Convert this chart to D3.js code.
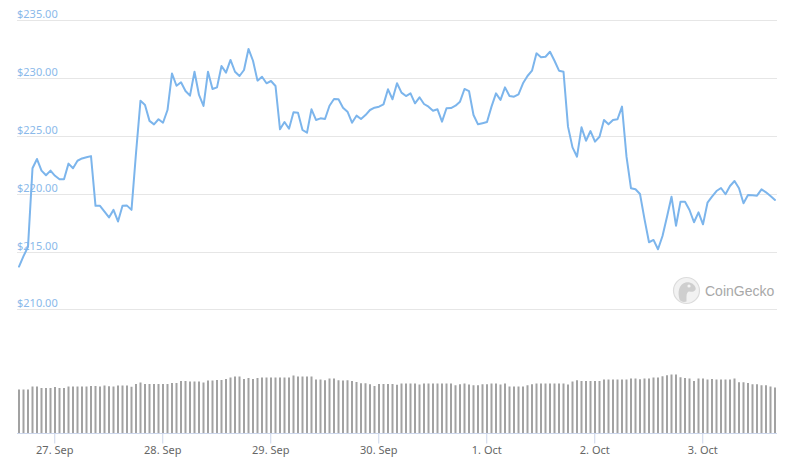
<!DOCTYPE html>
<html>
<head>
<meta charset="utf-8">
<script src="https://cdn.jsdelivr.net/npm/d3@7"></script>
<style>
  html, body { margin: 0; padding: 0; background: #fff; }
  svg { display: block; }
</style>
</head>
<body>
<svg id="chart" width="798" height="465"></svg>
<script>
// ---- data ----
const startTime = "2020-09-26T16:10:00Z"; // first hourly sample (UTC)
const stepHours = 1;

const prices = [
  213.7, 214.6, 215.4, 222.2, 223.0, 222.0, 221.6, 222.0, 221.55, 221.25,
  221.25, 222.6, 222.2, 222.85, 223.05, 223.15, 223.25, 218.95, 218.95, 218.45,
  217.95, 218.6, 217.6, 218.95, 218.97, 218.6, 223.5, 228.05, 227.67, 226.3,
  226.0, 226.44, 226.14, 227.24, 230.4, 229.34, 229.64, 228.88, 228.48, 230.55,
  228.54, 227.59, 230.55, 229.06, 229.2, 231.05, 230.47, 231.57, 230.55, 230.18,
  230.7, 232.52, 231.5, 229.78, 230.12, 229.55, 229.75, 229.32, 225.57, 226.2,
  225.62, 227.04, 227.0, 225.51, 225.28, 227.3, 226.38, 226.52, 226.46, 227.61,
  228.19, 228.17, 227.44, 227.09, 226.14, 226.75, 226.46, 226.8, 227.24, 227.44,
  227.53, 227.73, 229.03, 228.17, 229.55, 228.74, 228.45, 228.68, 227.82, 228.34,
  227.76, 227.53, 227.18, 227.3, 226.23, 227.39, 227.41, 227.61, 227.96, 229.06,
  228.88, 226.81, 226.0, 226.1, 226.2, 227.53, 228.68, 228.11, 229.2, 228.45,
  228.39, 228.6, 229.55, 230.18, 230.64, 232.14, 231.8, 231.85, 232.28, 231.5,
  230.64, 230.55, 225.8, 224.01, 223.2, 225.74, 224.58, 225.42, 224.5, 224.93,
  226.38, 226.0, 226.38, 226.44, 227.53, 223.2, 220.47, 220.38, 219.97, 217.8,
  215.8, 216.0, 215.19, 216.34, 218.01, 219.74, 217.23, 219.31, 219.31, 218.59,
  217.53, 218.39, 217.35, 219.22, 219.74, 220.23, 220.49, 219.95, 220.67, 221.1,
  220.47, 219.17, 219.89, 219.86, 219.83, 220.38, 220.12, 219.8, 219.46
];

// hourly volume, millions USD
const volumes = [
  1740, 1740, 1740, 1860, 1860, 1800, 1800, 1800, 1840, 1800,
  1800, 1860, 1860, 1860, 1860, 1860, 1880, 1880, 1860, 1900,
  1870, 1860, 1900, 1900, 1900, 1850, 1960, 2020, 1960, 1960,
  1960, 1960, 1960, 1960, 2000, 2000, 2080, 2080, 2060, 2060,
  2060, 2020, 2100, 2100, 2120, 2120, 2160, 2220, 2260, 2260,
  2160, 2200, 2160, 2200, 2220, 2220, 2220, 2220, 2220, 2220,
  2220, 2300, 2260, 2260, 2260, 2260, 2140, 2140, 2110, 2180,
  2180, 2110, 2100, 2110, 2080, 2040, 1990, 1990, 1950, 1880,
  1960, 1960, 1960, 1960, 1930, 1980, 1980, 1980, 1980, 1940,
  1980, 1980, 1980, 1980, 1980, 1980, 1980, 1910, 1950, 1980,
  1940, 1910, 1910, 1950, 1950, 1980, 1980, 1940, 1980, 1860,
  1860, 1860, 1860, 1910, 1950, 1980, 1980, 1980, 1980, 1980,
  1980, 1980, 1940, 2060, 2110, 2080, 2080, 2080, 2080, 2080,
  2140, 2140, 2140, 2140, 2140, 2140, 2180, 2180, 2150, 2180,
  2180, 2220, 2220, 2270, 2310, 2340, 2340, 2230, 2200, 2180,
  2080, 2180, 2180, 2140, 2160, 2140, 2140, 2140, 2140, 2180,
  2030, 2030, 2000, 1950, 1950, 1910, 1910, 1860, 1820
];

const priceTicks = [210, 215, 220, 225, 230, 235];
const brandLabel = "CoinGecko";

// ---- layout ----
const svg = d3.select("#chart");
const W = 798, H = 465;
const plotLeft = 17, plotRight = 777;
const t0 = new Date(startTime).getTime();
const times = prices.map((_, i) => new Date(t0 + i * stepHours * 3600e3));

const x = d3.scaleTime()
  .domain([times[0], times[times.length - 1]])
  .range([19, 775]);

const y = d3.scaleLinear().domain([210, 235]).range([309.3, 20.3]);

const volBase = 433;
const v = d3.scaleLinear().domain([0, 2400]).range([volBase, volBase - 60]);

svg.append("rect").attr("width", W).attr("height", H).attr("fill", "#fff");

// grid lines + labels
const grid = svg.append("g");
grid.selectAll("line").data(priceTicks).join("line")
  .attr("x1", plotLeft).attr("x2", plotRight)
  .attr("y1", d => Math.round(y(d)) + 0.5).attr("y2", d => Math.round(y(d)) + 0.5)
  .attr("stroke", "#e6e6e6").attr("stroke-width", 1);
grid.selectAll("text").data(priceTicks).join("text")
  .attr("x", plotLeft).attr("y", d => Math.round(y(d)) - 2)
  .attr("font-family", "'Noto Sans', sans-serif").attr("font-size", 11)
  .attr("fill", "#8ab9ea")
  .text(d => "$" + d.toFixed(2));

// watermark
const wm = svg.append("g").attr("transform", "translate(686.5,290.5)");
wm.append("circle").attr("r", 13).attr("fill", "#f2f2f2").attr("stroke", "#dcdcdc").attr("stroke-width", 1.2);
wm.append("path")
  .attr("d", "M-7,9 C-9,2 -8,-6 -1,-8 C4,-9 8,-6 9,-3 C10,0 7,2 3,1 C1,1 0,3 0,6 L0,11 C-3,12 -6,11 -7,9 Z")
  .attr("fill", "#cfcfcf");
wm.append("circle").attr("cx", 2.5).attr("cy", -4.5).attr("r", 1.6).attr("fill", "#f5f5f5");
svg.append("text").attr("x", 705).attr("y", 295.5)
  .attr("font-family", "'Liberation Sans', Arial, sans-serif").attr("font-size", 14)
  .attr("fill", "#a8a8a8").text(brandLabel);

// volume bars
svg.append("g").selectAll("rect").data(volumes).join("rect")
  .attr("x", (d, i) => x(times[i]) - 1)
  .attr("width", 2)
  .attr("y", d => v(d))
  .attr("height", d => volBase - v(d))
  .attr("fill", "#a2a2a2");

// price line
const line = d3.line()
  .x((d, i) => x(times[i]))
  .y(d => y(d));
svg.append("path").datum(prices)
  .attr("d", line)
  .attr("fill", "none")
  .attr("stroke", "#7cb5ec")
  .attr("stroke-width", 2)
  .attr("stroke-linejoin", "round")
  .attr("stroke-linecap", "round");

// x axis
const xAxis = d3.axisBottom(x)
  .ticks(d3.utcDay.every(1))
  .tickFormat(d3.utcFormat("%-d. %b"))
  .tickSize(10)
  .tickPadding(3);
const gx = svg.append("g").attr("transform", `translate(0,${volBase + 0.5})`).call(xAxis);
gx.select(".domain").remove();
gx.append("line").attr("x1", plotLeft).attr("x2", plotRight).attr("y1", 0).attr("y2", 0)
  .attr("stroke", "#ccd6eb");
gx.selectAll(".tick line").attr("stroke", "#ccd6eb");
gx.selectAll(".tick text")
  .attr("font-family", "'Noto Sans', sans-serif").attr("font-size", 11)
  .attr("fill", "#666");
</script>
</body>
</html>
